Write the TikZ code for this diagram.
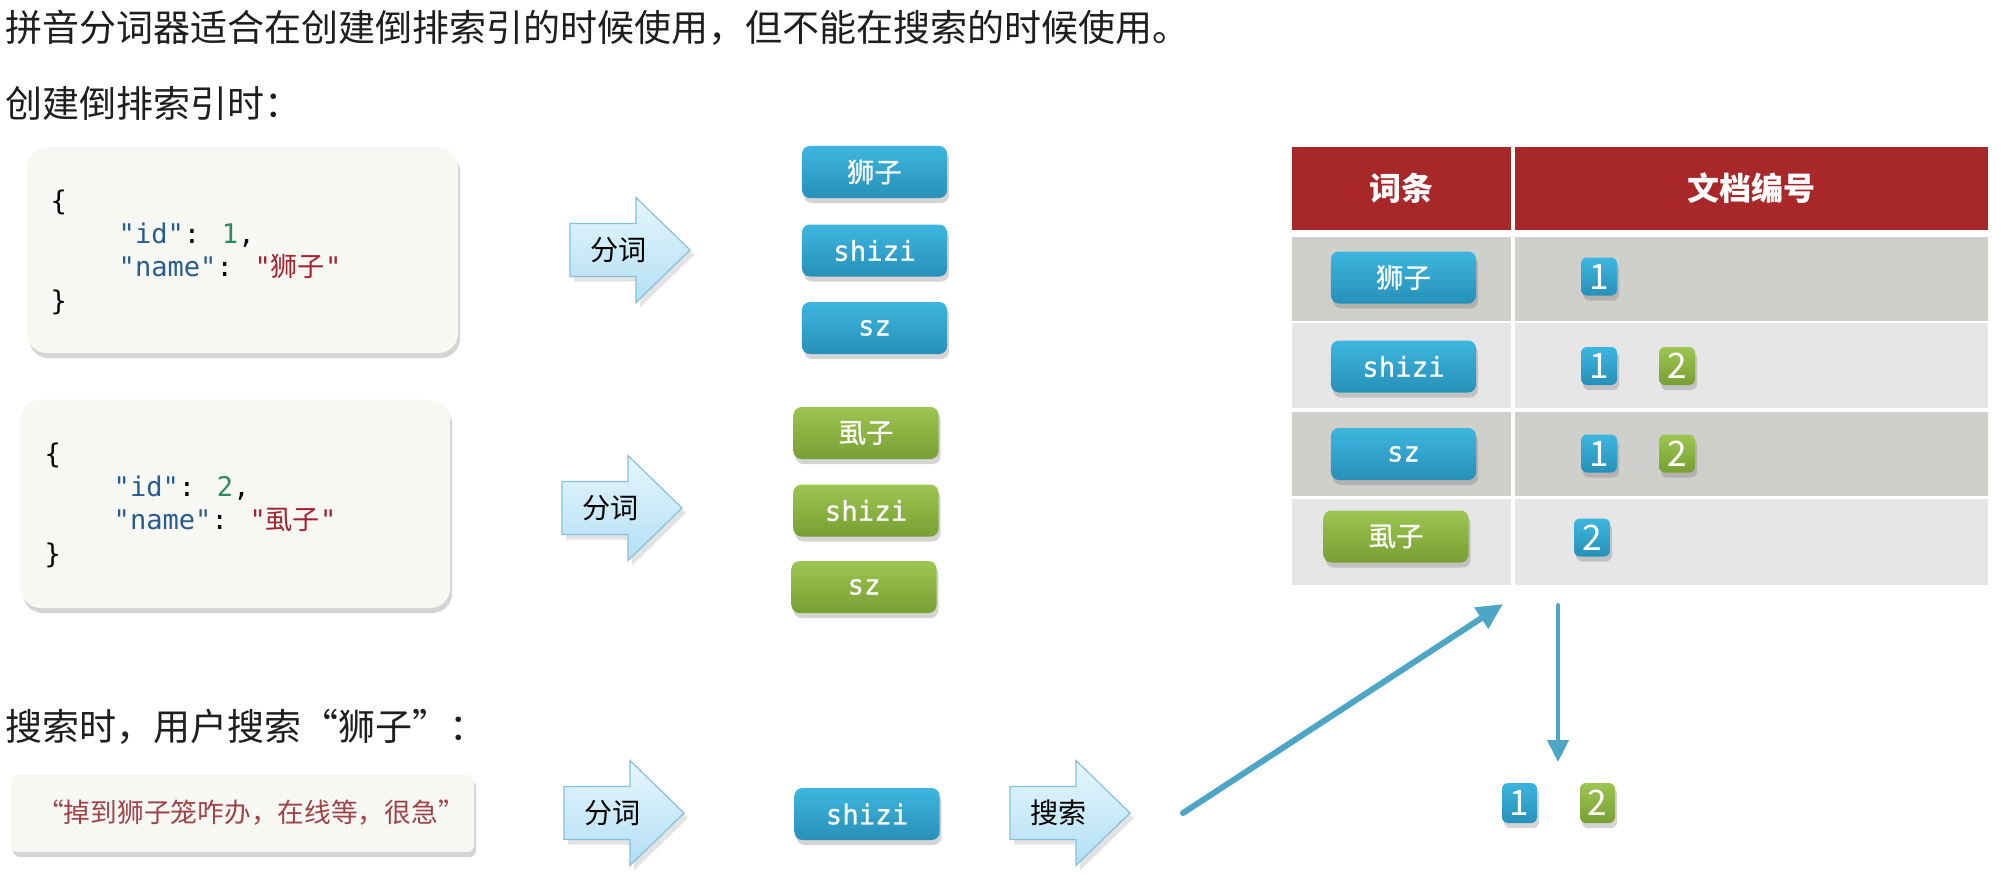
\documentclass[tikz,border=0pt]{standalone}
\usepackage{fontspec}
\setmainfont{Noto Sans CJK SC}
\newfontfamily\cjk{Noto Sans CJK SC}
\newfontfamily\cjkb{Noto Sans CJK SC}[FakeBold=0.6]
\newfontfamily\mono{DejaVu Sans Mono}
\newfontfamily\monob{DejaVu Sans Mono}[FakeBold=0.6]
\usetikzlibrary{shadows,arrows.meta}
\definecolor{tagblueT}{HTML}{3DB6DF}
\definecolor{tagblueB}{HTML}{2790B8}
\definecolor{taggreenT}{HTML}{9DC551}
\definecolor{taggreenB}{HTML}{789F33}
\definecolor{hdrred}{HTML}{A8282A}
\definecolor{rowdark}{HTML}{CFCFCC}
\definecolor{rowlight}{HTML}{E6E6E6}
\definecolor{keyblue}{HTML}{2A5D8C}
\definecolor{numgreen}{HTML}{2E8B5E}
\definecolor{strred}{HTML}{A3232F}
\definecolor{boxbg}{HTML}{F7F7F4}
\definecolor{arrT}{HTML}{E6F6FD}
\definecolor{arrB}{HTML}{B2DFF4}
\definecolor{arrline}{HTML}{86C0DA}
\definecolor{conn}{HTML}{4DA6C6}
\definecolor{titlec}{HTML}{1E1E1E}
\definecolor{searchred}{HTML}{9E4448}
\tikzset{
  softshadow/.style={drop shadow={opacity=0.28, shadow xshift=0.2mm, shadow yshift=-0.5mm, fill=black!60}},
  title/.style={anchor=west, inner sep=0, text=titlec, font=\cjk\fontsize{10.52pt}{12pt}\selectfont},
  codebox/.style={rounded corners=2mm, fill=boxbg, inner sep=0, softshadow},
  code/.style={anchor=west, inner sep=0, font=\mono\fontsize{7.7pt}{9pt}\selectfont, text height=2.1mm, text depth=0.6mm},
  tag/.style={rounded corners=0.8mm, minimum width=14.5mm, minimum height=5.2mm, inner sep=0, text=white, font=\monob\fontsize{7.8pt}{9pt}\selectfont, softshadow},
  btag/.style={tag, top color=tagblueT, bottom color=tagblueB},
  gtag/.style={tag, top color=taggreenT, bottom color=taggreenB},
  num/.style={rounded corners=0.6mm, minimum width=3.6mm, minimum height=3.8mm, inner sep=0, text=white, font=\cjk\fontsize{10pt}{10pt}\selectfont, softshadow},
  bnum/.style={num, top color=tagblueT, bottom color=tagblueB},
  gnum/.style={num, top color=taggreenT, bottom color=taggreenB},
  cell/.style={inner sep=0, draw=none},
  hdrtext/.style={text=white, font=\cjk\bfseries\fontsize{9.1pt}{10pt}\selectfont},
  arrtext/.style={inner sep=0, text=black, font=\cjk\fontsize{8pt}{9pt}\selectfont},
  fatarrow/.pic={\path[top color=arrT, bottom color=arrB, draw=arrline, line width=0.12mm, drop shadow={opacity=0.22, shadow xshift=0.4mm, shadow yshift=-0.5mm}] (0,-26.5) -- (66,-26.5) -- (66,-52.5) -- (120,0) -- (66,52.5) -- (66,26.5) -- (0,26.5) -- cycle;},
  conn/.style={draw=conn, line cap=round}
}
\begin{document}
\begin{tikzpicture}[x=0.01cm, y=-0.01cm]
\fill[white] (0,0) rectangle (2001,887);
\useasboundingbox (0,0) rectangle (2001,887);

% titles
\node[title] (t1) at (5,28) {拼音分词器适合在创建倒排索引的时候使用，但不能在搜索的时候使用。};
\node[title] (t2) at (5,103) {创建倒排索引时：};
\node[title] (t3) at (5,727) {搜索时，用户搜索“狮子”：};

% document 1
\node[codebox, minimum width=43.1mm, minimum height=20.6mm] (doc1) at (242.5,250) {};
\node[code] (d1a) at (50,203) {\{};
\node[code] (d1b) at (118,236) {\textcolor{keyblue}{"id"}: \textcolor{numgreen}{1},};
\node[code] (d1c) at (118,269) {\textcolor{keyblue}{"name"}: \textcolor{strred}{"{\cjk 狮子}"}};
\node[code] (d1d) at (50,303) {\}};

% document 2
\node[codebox, minimum width=42.9mm, minimum height=20.8mm] (doc2) at (235.5,504) {};
\node[code] (d2a) at (44,456) {\{};
\node[code] (d2b) at (113,489) {\textcolor{keyblue}{"id"}: \textcolor{numgreen}{2},};
\node[code] (d2c) at (113,522) {\textcolor{keyblue}{"name"}: \textcolor{strred}{"{\cjk 虱子}"}};
\node[code] (d2d) at (44,556) {\}};

% tokenize arrows
\pic at (570,250) {fatarrow};
\node[arrtext, anchor=west] (a1) at (590,250) {分词};
\pic at (562,508) {fatarrow};
\node[arrtext, anchor=west] (a2) at (582,508) {分词};

% tokens of doc 1
\node[btag] (b1) at (874.5,172) {\cjkb 狮子};
\node[btag] (b2) at (874.5,250.5) {shizi};
\node[btag] (b3) at (874.5,328) {sz};
% tokens of doc 2
\node[gtag] (g1) at (866,433) {\cjkb 虱子};
\node[gtag] (g2) at (866,510.5) {shizi};
\node[gtag] (g3) at (864,587) {sz};

% inverted index table
\node[cell, fill=hdrred, minimum width=21.9mm, minimum height=8.3mm] (h1) at (1401.5,188.5) {};
\node[cell, fill=hdrred, minimum width=47.3mm, minimum height=8.3mm] (h2) at (1751.5,188.5) {};
\node[hdrtext] (h1t) at (h1) {词条};
\node[hdrtext] (h2t) at (h2) {文档编号};
\node[cell, fill=rowdark, minimum width=21.9mm, minimum height=8.4mm] (r1a) at (1401.5,279) {};
\node[cell, fill=rowdark, minimum width=47.3mm, minimum height=8.4mm] (r1b) at (1751.5,279) {};
\node[cell, fill=rowlight, minimum width=21.9mm, minimum height=8.5mm] (r2a) at (1401.5,365.5) {};
\node[cell, fill=rowlight, minimum width=47.3mm, minimum height=8.5mm] (r2b) at (1751.5,365.5) {};
\node[cell, fill=rowdark, minimum width=21.9mm, minimum height=8.4mm] (r3a) at (1401.5,454) {};
\node[cell, fill=rowdark, minimum width=47.3mm, minimum height=8.4mm] (r3b) at (1751.5,454) {};
\node[cell, fill=rowlight, minimum width=21.9mm, minimum height=8.6mm] (r4a) at (1401.5,542) {};
\node[cell, fill=rowlight, minimum width=47.3mm, minimum height=8.6mm] (r4b) at (1751.5,542) {};

\node[btag] (tb1) at (1403.5,277.5) {\cjkb 狮子};
\node[btag] (tb2) at (1403.5,366.5) {shizi};
\node[btag] (tb3) at (1403.5,454) {sz};
\node[gtag] (tg1) at (1396,536.5) {\cjkb 虱子};

\node[bnum] (n11) at (1599,276.5) {1};
\node[bnum] (n21) at (1599,366) {1};
\node[gnum] (n22) at (1677,366) {2};
\node[bnum] (n31) at (1599,453.5) {1};
\node[gnum] (n32) at (1677,453.5) {2};
\node[bnum] (n41) at (1592,537.5) {2};

% search part
\node[codebox, rounded corners=0.7mm, minimum width=46.3mm, minimum height=7.7mm] (query) at (242.5,813.5) {};
\node[inner sep=0, text=searchred, font=\cjk\fontsize{7.6pt}{9pt}\selectfont] (qt) at (251,813) {“掉到狮子笼咋办，在线等，很急”};
\pic at (564,813) {fatarrow};
\node[arrtext, anchor=west] (a3) at (584,813) {分词};
\node[btag] (s1) at (867,814) {shizi};
\pic at (1010,813) {fatarrow};
\node[arrtext, anchor=west] (a4) at (1030,813) {搜索};

\coordinate (dstart) at (1183,813);
\coordinate (dend) at (1503,604);
\draw[conn, line width=0.6mm, -{Triangle[length=2.6mm,width=2.4mm]}] (dstart) -- (dend);
\coordinate (vstart) at (1558,605);
\coordinate (vend) at (1558,762);
\draw[conn, line width=0.4mm, -{Triangle[length=2.2mm,width=2.1mm]}] (vstart) -- (vend);

\node[bnum, minimum height=4mm, minimum width=3.5mm] (res1) at (1519.5,803) {1};
\node[gnum, minimum height=4mm, minimum width=3.5mm] (res2) at (1597.5,803) {2};
\end{tikzpicture}
\end{document}
